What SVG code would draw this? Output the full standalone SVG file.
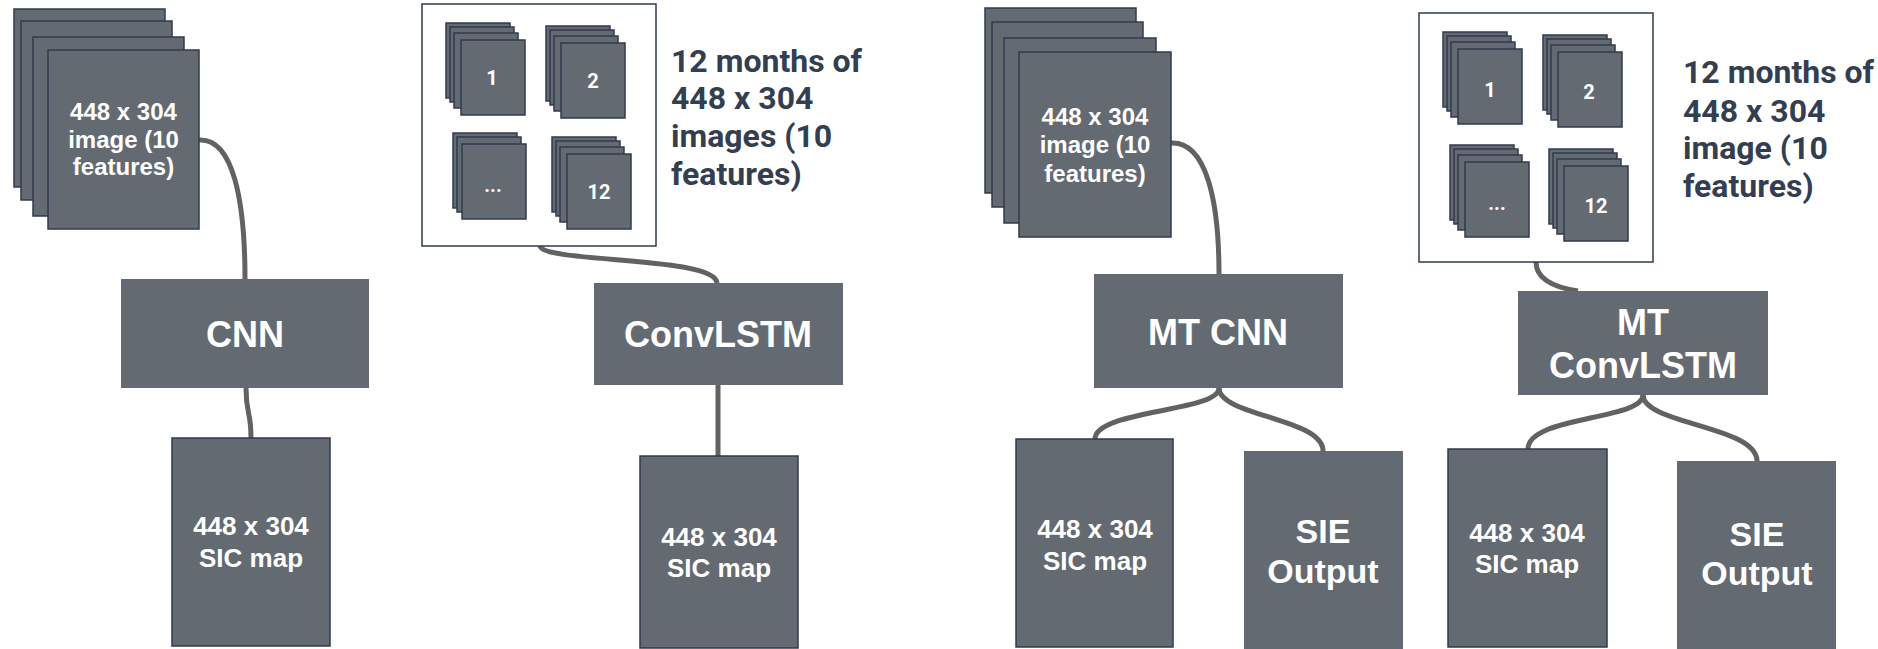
<svg xmlns="http://www.w3.org/2000/svg" width="1878" height="649" viewBox="0 0 1878 649">
  <style>
    .img { fill: #646a72; stroke: #2f3b4d; stroke-width: 1.5; }
    .blk { fill: #646a72; stroke: none; }
    .frame { fill: #ffffff; stroke: #2f3b4d; stroke-width: 1.5; }
    .wire { fill: none; stroke: #626262; stroke-width: 5; stroke-linecap: butt; }
    .t { font-family: "Liberation Sans", Arial, sans-serif; font-weight: bold; fill: #ffffff; text-anchor: middle; }
    .t24 { font-size: 24px; }
    .t26 { font-size: 26px; }
    .t34 { font-size: 34px; }
    .t36 { font-size: 36px; }
    .num { font-family: Roboto, "Liberation Sans", sans-serif; font-weight: bold; font-size: 20px; fill: #ffffff; text-anchor: middle; }
    .side { font-family: Roboto, "Liberation Sans", sans-serif; font-weight: bold; font-size: 32px; fill: #333e50; }
  </style>
  <defs>
    <!-- small four-layer feature stack, 64x75 per layer -->
    <g id="mini4">
      <rect class="img" x="0" y="0" width="64" height="75"/>
      <rect class="img" x="4" y="4" width="64" height="75"/>
      <rect class="img" x="8" y="10" width="64" height="75"/>
      <rect class="img" x="15" y="17" width="64" height="75"/>
    </g>
    <g id="mini3">
      <rect class="img" x="0" y="0" width="64" height="75"/>
      <rect class="img" x="4" y="4" width="64" height="75"/>
      <rect class="img" x="9" y="11" width="64" height="75"/>
    </g>
  </defs>

  <!-- connectors -->
  <g id="connectors">
    <path class="wire" d="M199,140 C233,138 245,200 245,279"/>
    <path class="wire" d="M246,388 C246,415 251,410 251,438"/>
    <path class="wire" d="M540,246 C543,263 715,256 717,283"/>
    <path class="wire" d="M718,385 L718,456"/>
    <path class="wire" d="M1171,143 C1206,141 1219,200 1219,274"/>
    <path class="wire" d="M1219,388 C1219,412 1095,410 1095,439"/>
    <path class="wire" d="M1219,388 C1219,416 1323,418 1323,451"/>
    <path class="wire" d="M1536,262 C1536,281 1558,288 1578,291"/>
    <path class="wire" d="M1643,395 C1643,420 1528,416 1528,449"/>
    <path class="wire" d="M1643,395 C1643,424 1757,426 1757,461"/>
  </g>

  <!-- CNN branch -->
  <g id="cnn-input">
    <rect class="img" x="14" y="9" width="151" height="178"/>
    <rect class="img" x="21" y="21" width="151" height="179"/>
    <rect class="img" x="33" y="37" width="151" height="179"/>
    <rect class="img" x="48" y="50" width="151" height="179"/>
    <text class="t t24" x="123.5" y="120">448 x 304</text>
    <text class="t t24" x="123.5" y="148">image (10</text>
    <text class="t t24" x="123.5" y="175">features)</text>
  </g>
  <g id="cnn">
    <rect class="blk" x="121" y="279" width="248" height="109"/>
    <text class="t t36" x="245" y="347">CNN</text>
  </g>
  <g id="cnn-output">
    <rect class="img" x="172" y="438" width="158" height="208"/>
    <text class="t t26" x="251" y="535">448 x 304</text>
    <text class="t t26" x="251" y="567">SIC map</text>
  </g>

  <!-- ConvLSTM branch -->
  <g id="convlstm-input">
    <rect class="frame" x="422" y="4" width="234" height="242"/>
    <use href="#mini4" x="446" y="23"/>
    <text class="num" x="492" y="85">1</text>
    <use href="#mini4" x="546" y="26"/>
    <text class="num" x="593" y="88">2</text>
    <use href="#mini3" x="453" y="133"/>
    <text class="num" x="493" y="192">...</text>
    <use href="#mini4" x="552" y="137"/>
    <text class="num" x="599" y="199">12</text>
    <text class="side" x="671" y="72">12 months of</text>
    <text class="side" x="671" y="109">448 x 304</text>
    <text class="side" x="671" y="147">images (10</text>
    <text class="side" x="671" y="185">features)</text>
  </g>
  <g id="convlstm">
    <rect class="blk" x="594" y="283" width="249" height="102"/>
    <text class="t t36" x="718" y="347">ConvLSTM</text>
  </g>
  <g id="convlstm-output">
    <rect class="img" x="640" y="456" width="158" height="192"/>
    <text class="t t26" x="719" y="546">448 x 304</text>
    <text class="t t26" x="719" y="577">SIC map</text>
  </g>

  <!-- MT CNN branch -->
  <g id="mtcnn-input">
    <rect class="img" x="985" y="8" width="151" height="185"/>
    <rect class="img" x="992" y="22" width="151" height="185"/>
    <rect class="img" x="1004" y="38" width="152" height="185"/>
    <rect class="img" x="1019" y="52" width="152" height="185"/>
    <text class="t t24" x="1095" y="125">448 x 304</text>
    <text class="t t24" x="1095" y="153">image (10</text>
    <text class="t t24" x="1095" y="182">features)</text>
  </g>
  <g id="mtcnn">
    <rect class="blk" x="1094" y="274" width="249" height="114"/>
    <text class="t t36" x="1218" y="345">MT CNN</text>
  </g>
  <g id="mtcnn-sic">
    <rect class="img" x="1016" y="439" width="157" height="208"/>
    <text class="t t26" x="1095" y="538">448 x 304</text>
    <text class="t t26" x="1095" y="570">SIC map</text>
  </g>
  <g id="mtcnn-sie">
    <rect class="blk" x="1244" y="451" width="159" height="198"/>
    <text class="t t34" x="1323" y="543">SIE</text>
    <text class="t t34" x="1323" y="583">Output</text>
  </g>

  <!-- MT ConvLSTM branch -->
  <g id="mtconvlstm-input">
    <rect class="frame" x="1419" y="13" width="234" height="249"/>
    <use href="#mini4" x="1443" y="32"/>
    <text class="num" x="1490" y="97">1</text>
    <use href="#mini4" x="1543" y="35"/>
    <text class="num" x="1589" y="99">2</text>
    <use href="#mini4" x="1450" y="145"/>
    <text class="num" x="1497" y="210">...</text>
    <use href="#mini4" x="1549" y="149"/>
    <text class="num" x="1596" y="213">12</text>
    <text class="side" x="1683" y="83">12 months of</text>
    <text class="side" x="1683" y="122">448 x 304</text>
    <text class="side" x="1683" y="159">image (10</text>
    <text class="side" x="1683" y="197">features)</text>
  </g>
  <g id="mtconvlstm">
    <rect class="blk" x="1518" y="291" width="250" height="104"/>
    <text class="t t36" x="1643" y="335">MT</text>
    <text class="t t36" x="1643" y="378">ConvLSTM</text>
  </g>
  <g id="mtconvlstm-sic">
    <rect class="img" x="1448" y="449" width="159" height="198"/>
    <text class="t t26" x="1527" y="542">448 x 304</text>
    <text class="t t26" x="1527" y="573">SIC map</text>
  </g>
  <g id="mtconvlstm-sie">
    <rect class="blk" x="1677" y="461" width="159" height="188"/>
    <text class="t t34" x="1757" y="546">SIE</text>
    <text class="t t34" x="1757" y="585">Output</text>
  </g>
</svg>
